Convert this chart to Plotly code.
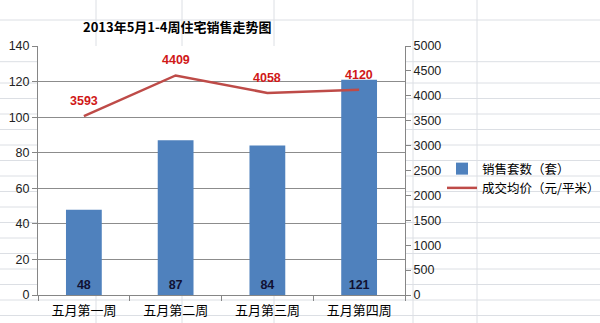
import plotly.graph_objects as go

categories = ["五月第一周", "五月第二周", "五月第三周", "五月第四周"]
sales_units = [48, 87, 84, 121]
avg_price = [3593, 4409, 4058, 4120]
title_text = "2013年5月1-4周住宅销售走势图"
bar_name = "销售套数（套）"
line_name = "成交均价（元/平米）"

CJK = "Noto Sans CJK SC"
NUM = "Liberation Sans, Arial, sans-serif"

# plot-area pixel frame
L, R, T, B = 38, 405, 46, 295
W, H = R - L, B - T
FW, FH = 600, 323


def px(x):
    return (x - L) / W


def py(y):
    return (B - y) / H


fig = go.Figure()

fig.add_trace(go.Bar(
    x=categories, y=sales_units, name=bar_name,
    marker=dict(color="#4f81bd", line=dict(width=0)),
    text=[str(v) for v in sales_units], textposition="inside",
    insidetextanchor="start", textangle=0,
    textfont=dict(family=NUM, size=12.5, color="#111133", weight="bold"),
    yaxis="y",
))

fig.add_trace(go.Scatter(
    x=categories, y=avg_price, name=line_name, mode="lines",
    line=dict(color="#be4b48", width=2.5),
    yaxis="y2",
))

annotations = []
for c, v in zip(categories, avg_price):
    annotations.append(dict(
        x=c, y=v, xref="x", yref="y2", text=f"<b>{v}</b>", showarrow=False,
        yshift=15, font=dict(family=NUM, size=12.5, color="#d01818"),
    ))

annotations.append(dict(
    x=px(177), y=py(27), xref="paper", yref="paper", text=f"<b>{title_text}</b>",
    showarrow=False, xanchor="center", yanchor="middle",
    font=dict(family=CJK, size=13, color="#000000"),
))

# spreadsheet gridlines in the background
shapes = []
sheet_col = "#dcdfe4"
for xv in [96, 182, 274, 413, 477]:
    shapes.append(dict(type="line", xref="paper", yref="paper",
                       x0=px(xv), x1=px(xv), y0=py(FH), y1=py(0),
                       line=dict(color=sheet_col, width=1), layer="below"))
rows = [20, 61.7] + [83 + 15.5 * k for k in range(16)]
for yv in rows:
    shapes.append(dict(type="line", xref="paper", yref="paper",
                       x0=px(0), x1=px(FW), y0=py(yv), y1=py(yv),
                       line=dict(color=sheet_col, width=1), layer="below"))
shapes.append(dict(type="rect", xref="paper", yref="paper", x0=0, x1=1, y0=0, y1=1,
                   fillcolor="white", line=dict(width=0), layer="below"))

axis_col = "#868686"
fig.update_layout(
    width=FW, height=FH,
    margin=dict(l=L, r=FW - R, t=T, b=FH - B, pad=0, autoexpand=False),
    paper_bgcolor="white", plot_bgcolor="white",
    showlegend=True,
    legend=dict(x=px(442), y=py(154), xanchor="left", yanchor="top",
                font=dict(family=CJK, size=12.5, color="#000000"),
                bgcolor="rgba(0,0,0,0)", itemwidth=30, tracegroupgap=0),
    bargap=0.61,
    xaxis=dict(type="category", categoryorder="array", categoryarray=categories,
               range=[-0.5, 3.5], showgrid=False, showline=True, linecolor=axis_col,
               ticks="outside", tickson="boundaries", ticklen=5, tickcolor=axis_col,
               tickfont=dict(family=CJK, size=13, color="#000000"),
               ticklabelstandoff=3, zeroline=False, automargin=False),
    yaxis=dict(range=[0, 140], dtick=20, showgrid=True, gridcolor="#8c8c8c", gridwidth=1,
               showline=True, linecolor=axis_col, ticks="outside", ticklen=5,
               tickcolor=axis_col, zeroline=False, automargin=False,
               tickfont=dict(family=NUM, size=12.5, color="#222222")),
    yaxis2=dict(range=[0, 5000], dtick=500, overlaying="y", side="right", showgrid=False,
                showline=True, linecolor=axis_col, ticks="outside", ticklen=5,
                tickcolor=axis_col, zeroline=False, automargin=False,
                tickfont=dict(family=NUM, size=12.5, color="#222222")),
    annotations=annotations,
    shapes=shapes,
)

fig.write_html("out.html")
